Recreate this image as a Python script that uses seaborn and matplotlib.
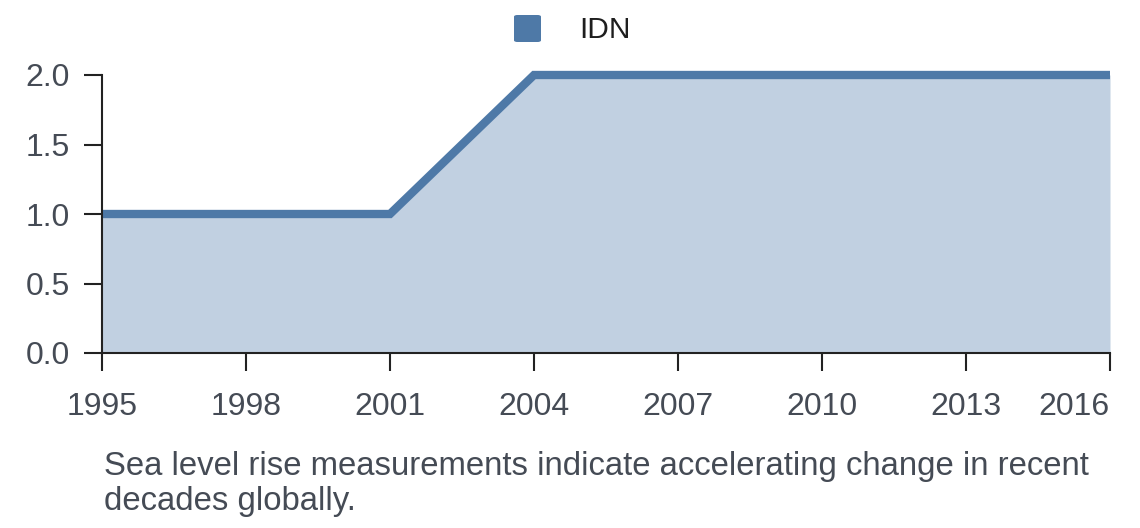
import matplotlib
matplotlib.use("Agg")
import matplotlib.pyplot as plt
import seaborn as sns
import pandas as pd

# data
years = [1995, 2001, 2004, 2016]
values = [1.0, 1.0, 2.0, 2.0]
x_ticks = [1995, 1998, 2001, 2004, 2007, 2010, 2013, 2016]
y_ticks = [0.0, 0.5, 1.0, 1.5, 2.0]
series_name = "IDN"
caption = "Sea level rise measurements indicate accelerating change in recent\ndecades globally."

line_color = "#4e79a7"
fill_color = "#c1d0e1"
text_color = "#454b55"

sns.set_style("white")
plt.rcParams['font.family'] = ['Liberation Sans', 'DejaVu Sans']

df = pd.DataFrame({"year": years, "value": values, "country": series_name})

fig = plt.figure(figsize=(11.4, 5.28), dpi=100)
ax = fig.add_axes([102/1140, 1-353/528, (1110-102)/1140, (353-75)/528])

ax.fill_between(df["year"], df["value"], 0, color=fill_color, linewidth=0)
sns.lineplot(data=df, x="year", y="value", color=line_color, linewidth=6,
             ax=ax, legend=False, solid_joinstyle="miter", solid_capstyle="butt",
             clip_on=False)

ax.set_xlim(1995, 2016)
ax.set_ylim(0, 2.0)
ax.set_xticks(x_ticks)
ax.set_xticklabels([str(t) for t in x_ticks])
ax.set_yticks(y_ticks)
ax.set_yticklabels([f"{t:.1f}" for t in y_ticks])
ax.set_xlabel("")
ax.set_ylabel("")

for s in ["top", "right"]:
    ax.spines[s].set_visible(False)
for s in ["left", "bottom"]:
    ax.spines[s].set_color("#222222")
    ax.spines[s].set_linewidth(1.5)
ax.tick_params(axis="both", direction="out", length=13, width=1.5, color="#222222",
               labelsize=23, labelcolor=text_color)
ax.tick_params(axis="x", pad=15)
ax.tick_params(axis="y", pad=10)
ax.tick_params(axis="both", which="both", bottom=True, left=True)
labels = ax.get_xticklabels()
labels[-1].set_horizontalalignment("right")
ax.margins(0)

# legend
fig.patches.append(matplotlib.patches.FancyBboxPatch(
    (514/1140, 1-42/528), 27/1140, 27/528, boxstyle="round,pad=0,rounding_size=0.003",
    transform=fig.transFigure, facecolor=line_color, edgecolor="none"))
fig.text(579/1140, 1-30/528, series_name, fontsize=21.5, color="#1e1e1e", va="center", ha="left")

fig.text(104/1140, 1-451/528, caption, fontsize=23.7, color=text_color, va="top", ha="left",
         linespacing=1.16)

fig.savefig("out.png", dpi=100)
